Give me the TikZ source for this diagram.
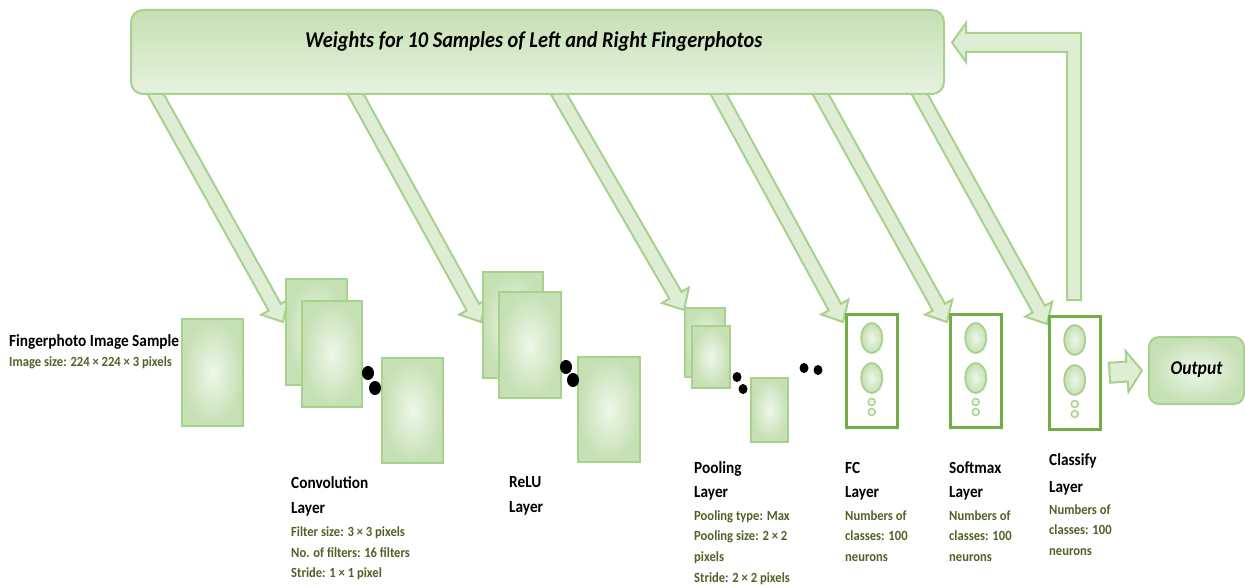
\documentclass[tikz,border=0pt]{standalone}
\usepackage{fontspec}
\setmainfont{Carlito}[FakeStretch=0.9]
\usetikzlibrary{calc,shapes.geometric}

\definecolor{gline}{HTML}{A9D18E}
\definecolor{gdark}{HTML}{70AD47}
\definecolor{gout}{HTML}{C5E0B4}
\definecolor{gin}{HTML}{EEF7E9}
\definecolor{afill}{HTML}{DDEED4}
\definecolor{txtgreen}{HTML}{4F6228}

\tikzset{
  fmap/.style={draw=gline, line width=2.5pt, shading=radial, inner color=gin,
    outer color=gout, inner sep=0pt, outer sep=0pt, anchor=north west},
  nbox/.style={draw=gdark, line width=2.5pt, fill=white, minimum width=51pt,
    minimum height=113pt, inner sep=0pt, anchor=north west},
  neu/.style={ellipse, draw=gline, line width=1.8pt, shading=radial,
    inner color=gin, outer color=gout, minimum width=21pt, minimum height=30pt, inner sep=0pt},
  smallneu/.style={circle, draw=gline, line width=1.4pt, fill=gin,
    minimum size=7pt, inner sep=0pt},
  bigdot/.style={ellipse, fill=black, minimum width=12pt, minimum height=14pt, inner sep=0pt},
  smalldot/.style={ellipse, fill=black, minimum width=9pt, minimum height=10pt, inner sep=0pt},
  fatarr/.style={draw=gline, line width=2pt, fill=afill, line join=miter},
  blk/.style={font=\fontsize{17}{17}\selectfont\bfseries, text=black, inner sep=0pt, anchor=base west},
  grn/.style={font=\fontsize{14}{14}\selectfont\bfseries, text=txtgreen, inner sep=0pt, anchor=base west},
}

% block arrow: start, tip, shaft half width, head half width, head length
\newcommand\fatarrow[5]{%
  \coordinate (fa-base) at ($(#2)!#5!(#1)$);
  \filldraw[fatarr]
    ($(#1)!#3!90:(#2)$) -- ($(fa-base)!#3!-90:(#1)$) -- ($(fa-base)!#4!-90:(#1)$)
    -- (#2) -- ($(fa-base)!#4!90:(#1)$) -- ($(fa-base)!#3!90:(#1)$)
    -- ($(#1)!#3!-90:(#2)$) -- cycle;
}
% text line placed on its baseline
\newcommand\lbl[5]{\node[#4] (#1) at (#2,#3) {#5};}
% layer with neurons
\newcommand\neuronbox[3]{%
  \node[nbox] (#1) at (#2,#3) {};
  \node[neu] (#1-a) at ($(#1.north)+(0,25)$) {};
  \node[neu] (#1-b) at ($(#1.north)+(0,65)$) {};
  \node[smallneu] (#1-c) at ($(#1.north)+(0,89)$) {};
  \node[smallneu] (#1-d) at ($(#1.north)+(0,99)$) {};
}

\begin{document}
\begin{tikzpicture}[x=1pt, y=-1pt]
\useasboundingbox (0,0) rectangle (1245,588);

% ---- arrows from the weight bar down to each layer
\coordinate (w1s) at (150,84);  \coordinate (w1t) at (283,322);
\coordinate (w2s) at (350,84);  \coordinate (w2t) at (481,322);
\coordinate (w3s) at (553,84);  \coordinate (w3t) at (684,310);
\coordinate (w4s) at (713,84);  \coordinate (w4t) at (843,322);
\coordinate (w5s) at (815,84);  \coordinate (w5t) at (947,322);
\coordinate (w6s) at (914,84);  \coordinate (w6t) at (1047,324);
\foreach \i in {1,...,6}{\fatarrow{w\i s}{w\i t}{7pt}{15.5pt}{17pt}}

% ---- weight bar
\node[draw=gline, line width=2pt, rounded corners=12pt, top color=gout,
  bottom color=gin!80!gout, minimum width=813pt, minimum height=84pt,
  anchor=north west, inner sep=0pt] (bank) at (130,9) {};
\node[font=\fontsize{22.6}{22.6}\selectfont\bfseries\itshape, anchor=base west,
  inner sep=0pt] (banktxt) at (305,48) {Weights for 10 Samples of Left and Right Fingerphotos};

% ---- feedback from the classify layer back to the weight bar
\coordinate (fb0) at (1081,300);
\filldraw[fatarr] (fb0) -- (1081,33) -- (966,33) -- (966,23) -- (952,42.5)
  -- (966,62) -- (966,52) -- (1067,52) -- (1067,300) -- cycle;

% ---- input image
\node[fmap, minimum width=61pt, minimum height=107pt] (inp) at (182,319) {};
\lbl{inpT}{9}{346}{blk}{Fingerphoto Image Sample}
\lbl{inpD}{9}{366}{grn}{Image size: 224 × 224 × 3 pixels}

% ---- convolution layer
\node[fmap, minimum width=61pt, minimum height=106pt] (c1) at (286,279) {};
\node[fmap, minimum width=60pt, minimum height=106pt] (c2) at (302,301) {};
\node[fmap, minimum width=61pt, minimum height=105pt] (c3) at (382,358) {};
\node[bigdot] (cd1) at (368,373) {};
\node[bigdot] (cd2) at (375,388) {};
\lbl{cT1}{291}{488}{blk}{Convolution}
\lbl{cT2}{291}{513}{blk}{Layer}
\lbl{cD1}{291}{536}{grn}{Filter size: 3 × 3 pixels}
\lbl{cD2}{291}{557}{grn}{No. of filters: 16 filters}
\lbl{cD3}{291}{577}{grn}{Stride: 1 × 1 pixel}

% ---- ReLU layer
\node[fmap, minimum width=60pt, minimum height=106pt] (r1) at (483,272) {};
\node[fmap, minimum width=62pt, minimum height=106pt] (r2) at (499,292) {};
\node[fmap, minimum width=62pt, minimum height=105pt] (r3) at (578,357) {};
\node[bigdot] (rd1) at (566,367) {};
\node[bigdot] (rd2) at (573,380) {};
\lbl{rT1}{509}{487}{blk}{ReLU}
\lbl{rT2}{509}{512}{blk}{Layer}

% ---- pooling layer
\node[fmap, minimum width=40pt, minimum height=69pt] (p1) at (685,308) {};
\node[fmap, minimum width=38pt, minimum height=62pt] (p2) at (692,326) {};
\node[fmap, minimum width=37pt, minimum height=64pt] (p3) at (751,378) {};
\node[smalldot] (pd1) at (737,377) {};
\node[smalldot] (pd2) at (743,389) {};
\node[smalldot] (md1) at (804,368) {};
\node[smalldot] (md2) at (818,370) {};
\lbl{pT1}{694}{473}{blk}{Pooling}
\lbl{pT2}{694}{497}{blk}{Layer}
\lbl{pD1}{694}{520}{grn}{Pooling type: Max}
\lbl{pD2}{694}{540}{grn}{Pooling size: 2 × 2}
\lbl{pD3}{694}{561}{grn}{pixels}
\lbl{pD4}{694}{582}{grn}{Stride: 2 × 2 pixels}

% ---- FC, softmax and classify layers
\neuronbox{fc}{845}{313}
\neuronbox{sm}{949}{313}
\neuronbox{cl}{1048}{315}
\lbl{fT1}{845}{473}{blk}{FC}
\lbl{fT2}{845}{497}{blk}{Layer}
\lbl{fD1}{845}{520}{grn}{Numbers of}
\lbl{fD2}{845}{540}{grn}{classes: 100}
\lbl{fD3}{845}{561}{grn}{neurons}
\lbl{sT1}{949}{473}{blk}{Softmax}
\lbl{sT2}{949}{497}{blk}{Layer}
\lbl{sD1}{949}{520}{grn}{Numbers of}
\lbl{sD2}{949}{540}{grn}{classes: 100}
\lbl{sD3}{949}{561}{grn}{neurons}
\lbl{kT1}{1049}{465}{blk}{Classify}
\lbl{kT2}{1049}{492}{blk}{Layer}
\lbl{kD1}{1049}{514}{grn}{Numbers of}
\lbl{kD2}{1049}{534}{grn}{classes: 100}
\lbl{kD3}{1049}{555}{grn}{neurons}

% ---- output
\node[draw=gline, line width=2pt, rounded corners=10pt, shading=radial,
  inner color=gin, outer color=gout, minimum width=95pt, minimum height=67pt,
  anchor=north west, inner sep=0pt] (out) at (1148,336) {};
\node[font=\fontsize{19.5}{19.5}\selectfont\bfseries\itshape, inner sep=0pt]
  (outtxt) at ($(out.center)+(0,-1)$) {Output};
\coordinate (oa) at ($(cl.east)+(8,0)$);
\coordinate (ob) at ($(out.west)+(-6,0)$);
\fatarrow{oa}{ob}{10pt}{20.5pt}{15pt}
\end{tikzpicture}
\end{document}
